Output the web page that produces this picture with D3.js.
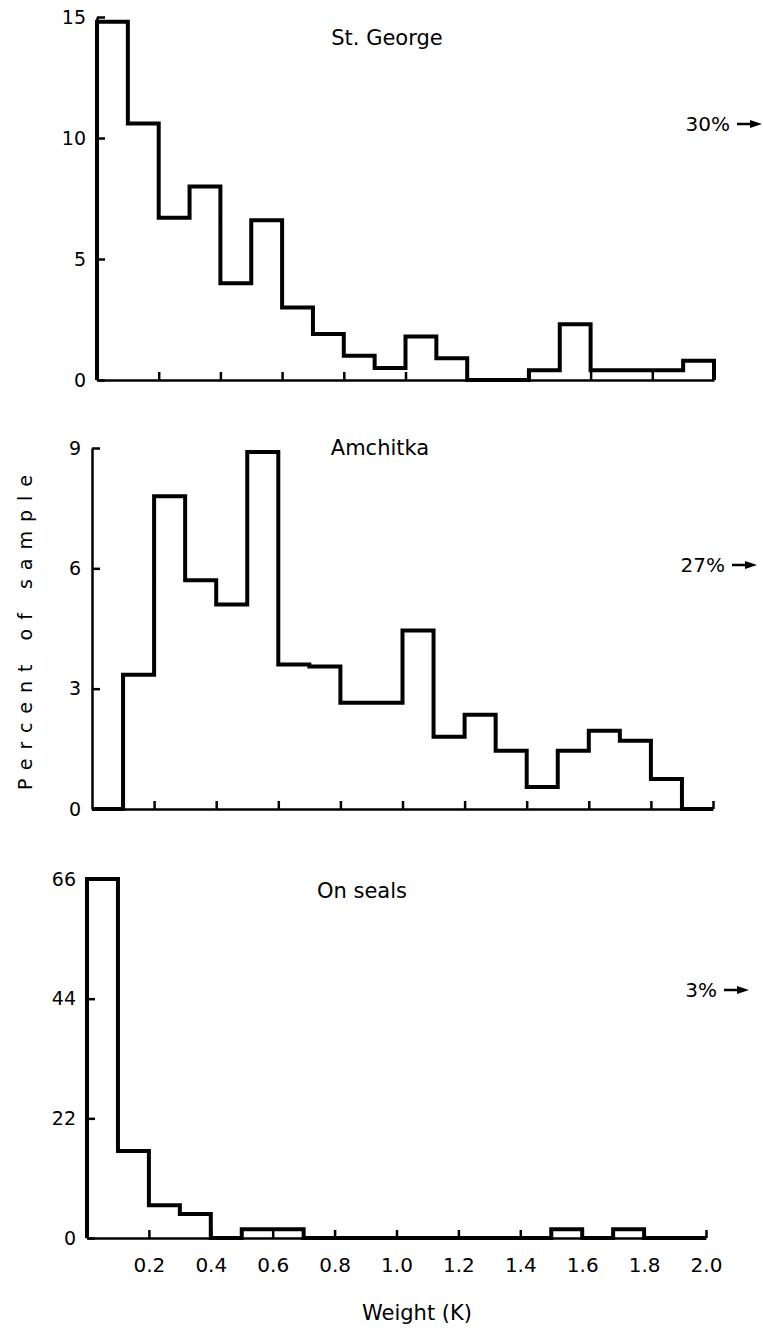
<!DOCTYPE html>
<html>
<head>
<meta charset="utf-8">
<script src="https://cdn.jsdelivr.net/npm/d3@7"></script>
<style>
  body { margin: 0; background: #fff; }
  text { font-family: "DejaVu Sans", sans-serif; fill: #000; }
</style>
</head>
<body>
<div class="chart"></div>
<script>
// bins of 0.1 K from 0 to 2.0
var binStarts = [0, 0.1, 0.2, 0.3, 0.4, 0.5, 0.6, 0.7, 0.8, 0.9,
                 1.0, 1.1, 1.2, 1.3, 1.4, 1.5, 1.6, 1.7, 1.8, 1.9];
var binWidth = 0.1;

// percent of sample per bin
var stGeorge = [14.8, 10.6, 6.7, 8.0, 4.0, 6.6, 3.0, 1.9, 1.0, 0.5,
                1.8, 0.9, 0, 0, 0.4, 2.3, 0.4, 0.4, 0.4, 0.8];
var amchitka = [0, 3.35, 7.8, 5.7, 5.1, 8.9, 3.6, 3.55, 2.65, 2.65,
                4.45, 1.8, 2.35, 1.45, 0.55, 1.45, 1.95, 1.7, 0.75, 0];
var onSeals = [66, 16, 6, 4.4, 0, 1.6, 1.6, 0, 0, 0,
               0, 0, 0, 0, 0, 1.6, 0, 1.6, 0, 0];

var xTicks = [0.2, 0.4, 0.6, 0.8, 1.0, 1.2, 1.4, 1.6, 1.8, 2.0];
var xTickLabels = ["0.2", "0.4", "0.6", "0.8", "1.0", "1.2", "1.4", "1.6", "1.8", "2.0"];
var yTicksStGeorge = [0, 5, 10, 15];
var yTicksAmchitka = [0, 3, 6, 9];
var yTicksSeals = [0, 22, 44, 66];

var titles = ["St. George", "Amchitka", "On seals"];
var beyondRange = ["30%", "27%", "3%"];

var svg = d3.select(".chart")
  .append("svg")
  .attr("width", 763)
  .attr("height", 1330);

// panel placement (pixels)
var panels = [
  { values: stGeorge, ticks: yTicksStGeorge, left: 97, right: 714, bottom: 380, top: 17,
    titleX: 387, titleY: 45, noteX: 730, noteY: 131, labels: false },
  { values: amchitka, ticks: yTicksAmchitka, left: 92, right: 713, bottom: 809, top: 448,
    titleX: 380, titleY: 455, noteX: 725, noteY: 572, labels: false },
  { values: onSeals, ticks: yTicksSeals, left: 87, right: 706, bottom: 1238, top: 879,
    titleX: 362, titleY: 898, noteX: 717, noteY: 997, labels: true }
];

panels.forEach(function(p, i) {
  var x = d3.scaleLinear().domain([0, 2]).range([p.left, p.right]);
  var y = d3.scaleLinear().domain([0, d3.max(p.ticks)]).range([p.bottom, p.top]);

  var g = svg.append("g");

  // x axis, ticks point up
  var xAxis = d3.axisBottom(x)
    .tickValues(xTicks)
    .tickSizeInner(-8)
    .tickSizeOuter(0)
    .tickPadding(20)
    .tickFormat(function(d, k) { return p.labels ? xTickLabels[k] : ""; });

  var xg = g.append("g")
    .attr("transform", `translate(0, ${p.bottom})`)
    .call(xAxis);
  xg.select(".domain").attr("stroke", "#000").attr("stroke-width", 2.5);
  xg.selectAll(".tick line").attr("stroke", "#000").attr("stroke-width", 2.5);
  xg.selectAll(".tick text")
    .style("font-size", "20px")
    .style("font-family", "DejaVu Sans")
    .attr("fill", "#000");

  // y axis, ticks point right
  var yAxis = d3.axisLeft(y)
    .tickValues(p.ticks)
    .tickSizeInner(-8)
    .tickSizeOuter(0)
    .tickPadding(11)
    .tickFormat(d3.format("d"));

  var yg = g.append("g")
    .attr("transform", `translate(${p.left}, 0)`)
    .call(yAxis);
  yg.select(".domain").attr("stroke", "#000").attr("stroke-width", 2.5);
  yg.selectAll(".tick line").attr("stroke", "#000").attr("stroke-width", 2.5);
  yg.selectAll(".tick text")
    .style("font-size", "19px")
    .style("font-family", "DejaVu Sans")
    .attr("fill", "#000");

  // histogram outline
  var pts = [[binStarts[0], 0]];
  binStarts.forEach(function(s, k) { pts.push([s, p.values[k]]); });
  pts.push([binStarts[binStarts.length - 1] + binWidth, 0]);

  var line = d3.line()
    .x(d => x(d[0]))
    .y(d => y(d[1]))
    .curve(d3.curveStepAfter);

  g.append("path")
    .attr("d", line(pts))
    .attr("fill", "none")
    .attr("stroke", "#000")
    .attr("stroke-width", 4)
    .attr("stroke-linejoin", "miter");

  // panel title
  g.append("text")
    .attr("x", p.titleX)
    .attr("y", p.titleY)
    .attr("text-anchor", "middle")
    .style("font-size", "21px")
    .text(titles[i]);

  // share beyond 2.0 K
  g.append("text")
    .attr("x", p.noteX)
    .attr("y", p.noteY)
    .attr("text-anchor", "end")
    .style("font-size", "20px")
    .text(beyondRange[i]);

  var ay = p.noteY - 7;
  g.append("line")
    .attr("x1", p.noteX + 7).attr("x2", p.noteX + 24)
    .attr("y1", ay).attr("y2", ay)
    .attr("stroke", "#000").attr("stroke-width", 2.5);
  g.append("path")
    .attr("d", `M${p.noteX + 20},${ay - 4}L${p.noteX + 32},${ay}L${p.noteX + 20},${ay + 4}Z`)
    .attr("fill", "#000");
});

svg.append("text")
  .attr("transform", "translate(32, 628) rotate(-90)")
  .attr("text-anchor", "middle")
  .style("font-size", "19px")
  .style("letter-spacing", "9px")
  .text("Percent of sample");

svg.append("text")
  .attr("x", 417)
  .attr("y", 1320)
  .attr("text-anchor", "middle")
  .style("font-size", "21px")
  .text("Weight (K)");
</script>
</body>
</html>
